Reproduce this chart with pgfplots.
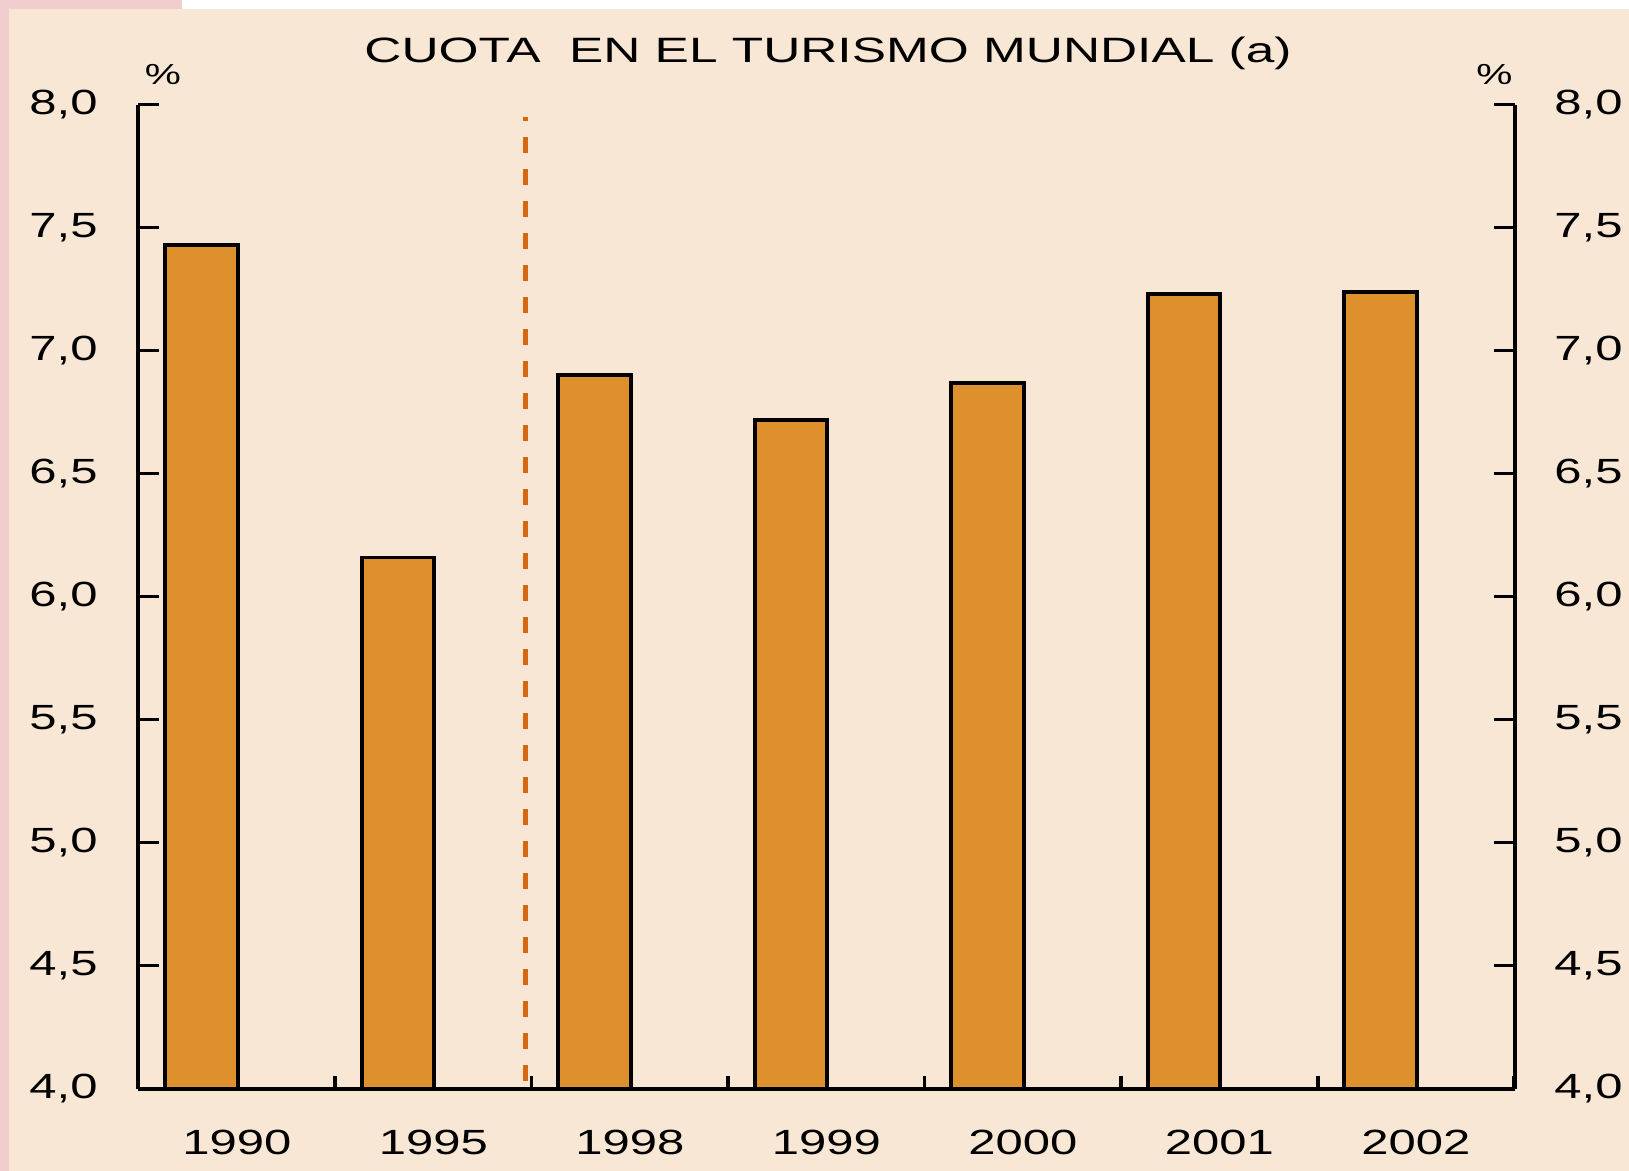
\documentclass[border=0pt]{standalone}
\usepackage{pgfplots}
\pgfplotsset{compat=1.18}
\usepackage{fontspec}
\setmainfont{Liberation Sans}[FakeStretch=1.4]
\newfontfamily\titlefont{Liberation Sans}[FakeStretch=1.46]
\definecolor{bg}{RGB}{247,231,212}
\definecolor{barc}{RGB}{222,144,44}
\definecolor{dashc}{RGB}{214,104,20}
\definecolor{pinkc}{RGB}{242,205,207}
\begin{document}
\begin{tikzpicture}
\fill[bg] (0,0) rectangle (814.5pt,585.5pt);
\fill[pinkc] (0,0) rectangle (4.5pt,585.5pt);
\fill[white] (0,581pt) rectangle (814.5pt,585.5pt);
\fill[pinkc] (0,581pt) rectangle (91pt,585.5pt);
\useasboundingbox (0,0) rectangle (814.5pt,585.5pt);
\pgfplotsset{common/.style={
  at={(69pt,41.1pt)}, anchor=south west, scale only axis,
  width=688.5pt, height=492pt,
  xmin=-0.323, xmax=6.684, ymin=4, ymax=8,
  ytick={4,4.5,5,5.5,6,6.5,7,7.5,8},
  /pgf/number format/.cd, fixed, fixed zerofill, precision=1, use comma, assume math mode=true,
  /pgfplots/.cd,
  tick label style={font=\fontsize{17.5}{20}\selectfont, black},
  tick align=inside,
  major tick length=10.5pt,
  minor tick length=6.5pt,
  axis line style={line width=1.9pt, black},
  tick style={line width=1.5pt, black},
}}
\begin{axis}[common,
  axis x line*=bottom, axis y line*=left,
  xtick={0.18,1.18,2.18,3.18,4.18,5.18,6.18},
  xticklabels={1990,1995,1998,1999,2000,2001,2002},
  minor xtick={-0.32,0.68,1.68,2.68,3.68,4.68,5.68,6.68},
  major x tick style={draw=none},
  minor x tick style={line width=1.8pt, black},
  yticklabel style={anchor=east, inner sep=0pt, xshift=-20pt},
  xticklabel style={anchor=north, inner sep=0pt, yshift=-20.5pt},
]
\addplot[ybar, bar width=36.3pt, bar shift=0pt, fill=barc, draw=black, line width=1.9pt]
  coordinates {(0,7.43) (1,6.16) (2,6.90) (3,6.72) (4,6.87) (5,7.23) (6,7.24)};
\addplot[dashc, line width=2.3pt, dash pattern=on 8pt off 8pt, mark=none]
  coordinates {(1.65,4.03) (1.65,7.95)};
\end{axis}
\begin{axis}[common,
  axis x line=none, axis y line*=right,
  xtick=\empty,
  yticklabel style={anchor=west, inner sep=0pt, xshift=19.5pt},
]
\addplot[draw=none, mark=none] coordinates {(0,5)};
\end{axis}
\node[anchor=base, inner sep=0pt, font=\titlefont\fontsize{17.6}{20}\selectfont] at (414pt,554.15pt) {CUOTA\ \ EN EL TURISMO MUNDIAL (a)};
\node[inner sep=0pt, font=\fontsize{14.5}{16}\selectfont] at (81.5pt,548.25pt) {\%};
\node[inner sep=0pt, font=\fontsize{14.5}{16}\selectfont] at (747.25pt,548.25pt) {\%};
\end{tikzpicture}
\end{document}
